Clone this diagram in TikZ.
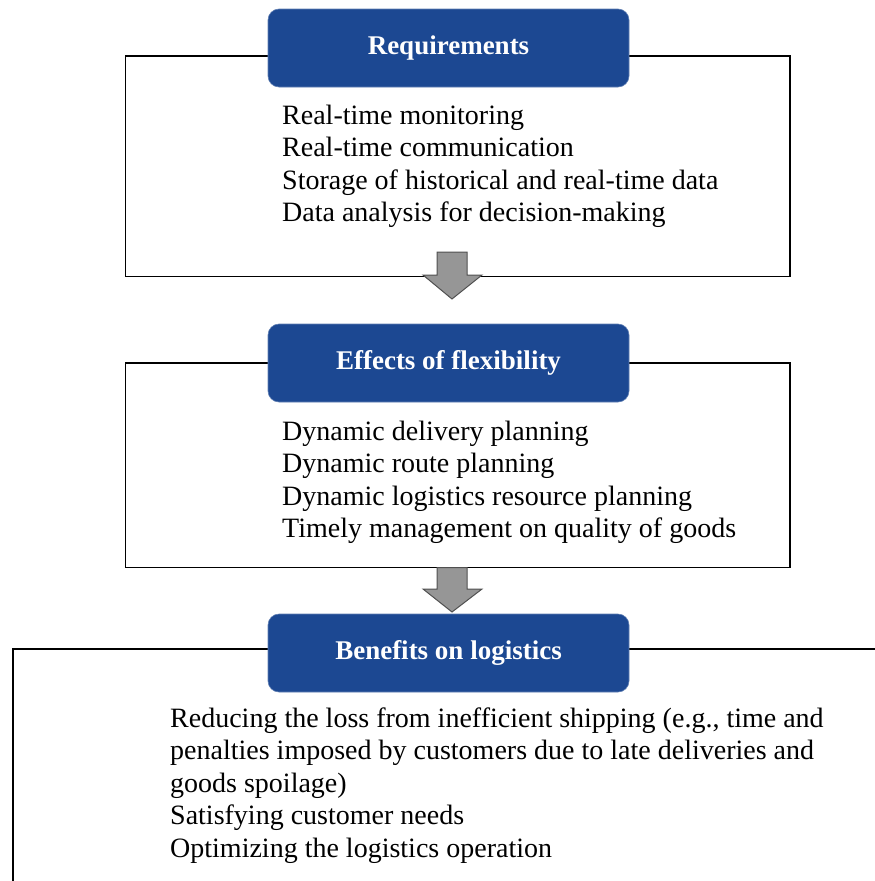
\documentclass[tikz,border=0pt]{standalone}
\usepackage{fontspec}
\setmainfont{Liberation Serif}
\definecolor{hdrblue}{RGB}{28,72,146}
\definecolor{arrfill}{RGB}{150,150,150}
\definecolor{arrline}{RGB}{80,80,80}
\newcommand{\bodyfont}{\fontsize{28}{32.6}\selectfont}
\begin{document}
\begin{tikzpicture}[x=1pt,y=-1pt,
  frame/.style={draw=black,line width=1.4pt},
  header/.style={fill=hdrblue,draw=hdrblue!70!white,line width=0.6pt,rounded corners=11pt,
    minimum width=361pt,minimum height=78pt,inner sep=0pt,text=white,
    font=\fontsize{27}{30}\selectfont\bfseries},
  body/.style={anchor=base west,inner sep=0pt,align=left,font=\bodyfont},
  blockarrow/.style={fill=arrfill,draw=arrline,line width=1pt,line join=miter}]
\useasboundingbox (0,0) rectangle (875,881);
% box 1
\draw[frame] (125.7,56) rectangle (790,276.5);
\draw[blockarrow] (437,252) -- (467,252) -- (467,275) -- (482,275) -- (452,299) -- (423,275) -- (437,275) -- cycle;
\node[header] (req) at (448.5,48) {Requirements};
\node[body] (reqtext) at (282,221.8) {Real-time monitoring\\Real-time communication\\Storage of historical and real-time data\\Data analysis for decision-making};
% box 2
\draw[frame] (125.7,363) rectangle (790,567.5);
\draw[blockarrow] (437,567.5) -- (467,567.5) -- (467,589) -- (482,589) -- (452,612) -- (423,589) -- (437,589) -- cycle;
\node[header] (eff) at (448.5,363) {Effects of flexibility};
\node[body] (efftext) at (282,537.8) {Dynamic delivery planning\\Dynamic route planning\\Dynamic logistics resource planning\\Timely management on quality of goods};
% box 3
\draw[frame] (13,890) -- (13,649) -- (885,649);
\node[header] (ben) at (448.5,653) {Benefits on logistics};
\node[body] (bentext) at (170,857.4) {Reducing the loss from inefficient shipping (e.g., time and\\penalties imposed by customers due to late deliveries and\\goods spoilage)\\Satisfying customer needs\\Optimizing the logistics operation};
\end{tikzpicture}
\end{document}
